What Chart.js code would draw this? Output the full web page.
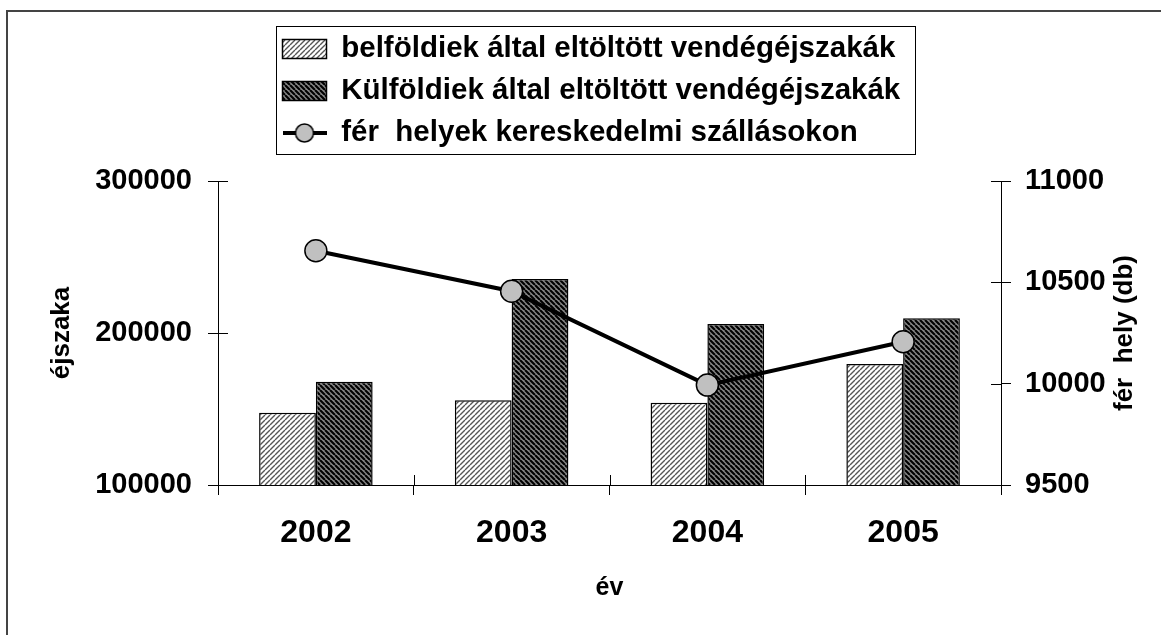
<!DOCTYPE html>
<html>
<head>
<meta charset="utf-8">
<script src="https://cdn.jsdelivr.net/npm/chart.js@4.4.1/dist/chart.umd.min.js"></script>
<style>
html,body{margin:0;padding:0;background:#fff;}
#wrap{width:1161px;height:635px;position:relative;}
</style>
</head>
<body>
<div id="wrap"><canvas id="c" width="1161" height="635"></canvas></div>
<script>
// ---- data ----
const categories = ['2002', '2003', '2004', '2005'];
const belfoldi = [147600, 155700, 154100, 179600];
const kulfoldi = [168000, 235500, 205900, 209700];
const ferohely = [10656, 10456, 9993, 10207];
const leftTicks = [100000, 200000, 300000];
const rightTicks = [9500, 10000, 10500, 11000];
const seriesNames = [
  'belföldiek által eltöltött vendégéjszakák',
  'Külföldiek által eltöltött vendégéjszakák',
  'fér  helyek kereskedelmi szállásokon'
];
const xTitle = 'év';
const yTitle = 'éjszaka';
const y2Title = 'fér  hely (db)';

// ---- styles ----
const F = '"Liberation Sans", Arial, sans-serif';
const canvas = document.getElementById('c');
const mainCtx = canvas.getContext('2d');

function hatch(bg, fg, lw, dir) {
  const s = 5;
  const c = document.createElement('canvas');
  c.width = s; c.height = s;
  const g = c.getContext('2d');
  g.fillStyle = bg; g.fillRect(0, 0, s, s);
  g.strokeStyle = fg; g.lineWidth = lw;
  g.beginPath();
  for (let k = -1; k <= 1; k++) {
    if (dir > 0) { g.moveTo(k * s, s); g.lineTo(k * s + s, 0); }
    else { g.moveTo(k * s, 0); g.lineTo(k * s + s, s); }
  }
  g.stroke();
  return mainCtx.createPattern(c, 'repeat');
}
const lightPattern = hatch('#ffffff', '#555555', 1.4, 1);
const darkPattern = hatch('#858585', '#000000', 2.1, -1);

const lineIcon = document.createElement('canvas');
lineIcon.width = 44; lineIcon.height = 24;
(function () {
  const g = lineIcon.getContext('2d');
  g.strokeStyle = '#000'; g.lineWidth = 4;
  g.beginPath(); g.moveTo(0, 12); g.lineTo(44, 12); g.stroke();
  g.beginPath(); g.arc(22, 12, 9, 0, Math.PI * 2);
  g.fillStyle = '#c0c0c0'; g.fill();
  g.lineWidth = 1.5; g.stroke();
})();

const plainNumber = v => String(v);

const decoPlugin = {
  id: 'deco',
  beforeDraw(chart) {
    const ctx = chart.ctx;
    ctx.save();
    ctx.fillStyle = '#fff';
    ctx.fillRect(0, 0, chart.width, chart.height);
    ctx.restore();
  },
  afterLayout(chart) {
    const lg = chart.legend;
    const h = lg.bottom - lg.top;
    lg.left = 270;
    lg.top = 21.75;
    lg.bottom = lg.top + h;
    lg.right = chart.width;
  },
  beforeDatasetsDraw(chart) {
    const ctx = chart.ctx;
    const {x, y, y2} = chart.scales;
    ctx.save();
    ctx.strokeStyle = '#000';
    ctx.lineWidth = 1;
    ctx.beginPath();
    y.ticks.forEach(t => {
      const py = Math.round(y.getPixelForValue(t.value)) + 0.5;
      ctx.moveTo(y.right, py); ctx.lineTo(y.right + 10, py);
    });
    y2.ticks.forEach(t => {
      const py = Math.round(y2.getPixelForValue(t.value)) + 0.5;
      ctx.moveTo(y2.left, py); ctx.lineTo(y2.left - 10, py);
    });
    const step = x.getPixelForValue(1) - x.getPixelForValue(0);
    for (let i = 1; i < categories.length; i++) {
      const px = Math.round(x.getPixelForValue(i) - step / 2) + 0.5;
      ctx.moveTo(px, x.top); ctx.lineTo(px, x.top - 10);
    }
    ctx.stroke();
    ctx.restore();
  },
  afterDraw(chart) {
    const ctx = chart.ctx;
    ctx.save();
    // outer frame
    ctx.strokeStyle = '#444';
    ctx.lineWidth = 2;
    ctx.strokeRect(7, 11, chart.width + 20, chart.height + 20);
    // legend frame
    const lg = chart.legend;
    const pad = lg.options.labels.padding;
    const fs = lg.options.labels.font.size;
    const maxLine = Math.max(...lg.lineWidths);
    const rowTop = lg.top + pad;
    const rowH = fs + pad;
    const n = lg.legendItems.length;
    const fl = lg.left + pad - 7;
    const fr = lg.left + pad + maxLine - pad + 14;
    const ft = rowTop + fs / 2 - 23;
    const fb = rowTop + (n - 1) * rowH + fs / 2 + 21;
    ctx.strokeStyle = '#000';
    ctx.lineWidth = 1;
    ctx.strokeRect(Math.round(fl) + 0.5, Math.round(ft) + 0.5, Math.round(fr - fl), Math.round(fb - ft));
    // right axis title, reading bottom-to-top
    const s = chart.scales.y2;
    ctx.translate(s.right - 36, (s.top + s.bottom) / 2);
    ctx.rotate(-Math.PI / 2);
    ctx.font = 'bold 26px ' + F;
    ctx.fillStyle = '#000';
    ctx.textAlign = 'center';
    ctx.textBaseline = 'middle';
    ctx.fillText(y2Title, 0, 0);
    ctx.restore();
  }
};

new Chart(canvas, {
  type: 'bar',
  data: {
    labels: categories,
    datasets: [
      {
        label: seriesNames[0], data: belfoldi, yAxisID: 'y', order: 1,
        backgroundColor: lightPattern, borderColor: '#000', borderWidth: 1.5,
        categoryPercentage: 0.58, barPercentage: 1.0
      },
      {
        label: seriesNames[1], data: kulfoldi, yAxisID: 'y', order: 1,
        backgroundColor: darkPattern, borderColor: '#000', borderWidth: 1.5,
        categoryPercentage: 0.58, barPercentage: 1.0
      },
      {
        type: 'line', label: seriesNames[2], data: ferohely, yAxisID: 'y2', order: 0,
        borderColor: '#000', borderWidth: 4, tension: 0, fill: false,
        pointRadius: 11, pointHoverRadius: 11, pointBackgroundColor: '#c0c0c0',
        pointBorderColor: '#000', pointBorderWidth: 1.5
      }
    ]
  },
  options: {
    responsive: false,
    devicePixelRatio: 1,
    animation: false,
    layout: { padding: { top: 45, left: 0, right: 0, bottom: 0 } },
    plugins: {
      tooltip: { enabled: false },
      legend: {
        position: 'top',
        align: 'start',
        labels: {
          usePointStyle: true,
          pointStyleWidth: 44,
          boxHeight: 19,
          padding: 12.5,
          color: '#000',
          font: { family: F, size: 29.5, weight: 'bold' },
          sort: (a, b) => a.datasetIndex - b.datasetIndex,
          generateLabels(chart) {
            const items = Chart.defaults.plugins.legend.labels.generateLabels(chart);
            items.forEach(it => {
              const ds = chart.data.datasets[it.datasetIndex];
              it.pointStyle = ds.type === 'line' ? lineIcon : 'rect';
            });
            return items;
          }
        }
      }
    },
    scales: {
      x: {
        offset: true,
        grid: { display: true, offset: true, drawOnChartArea: false, drawTicks: true, tickLength: 10, color: '#000', lineWidth: 1 },
        border: { display: true, color: '#000', width: 1 },
        ticks: { color: '#000', font: { family: F, size: 32, weight: 'bold' }, padding: 19, maxRotation: 0 },
        title: { display: true, text: xTitle, color: '#000', font: { family: F, size: 25, weight: 'bold' }, padding: { top: 0, bottom: 32 } },
        afterFit: s => { s.height = 150; }
      },
      y: {
        type: 'linear', position: 'left', min: leftTicks[0], max: leftTicks[leftTicks.length - 1], beginAtZero: false,
        afterBuildTicks: s => { s.ticks = leftTicks.map(v => ({ value: v })); },
        grid: { display: true, drawOnChartArea: false, drawTicks: true, tickLength: 10, color: '#000' },
        border: { display: true, color: '#000', width: 1 },
        ticks: { color: '#000', font: { family: F, size: 29, weight: 'bold' }, padding: 16, callback: plainNumber },
        title: { display: true, text: yTitle, color: '#000', font: { family: F, size: 26, weight: 'bold' }, padding: { top: 46, bottom: 0 } },
        afterFit: s => { s.width = 218; }
      },
      y2: {
        type: 'linear', position: 'right', min: rightTicks[0], max: rightTicks[rightTicks.length - 1], beginAtZero: false,
        afterBuildTicks: s => { s.ticks = rightTicks.map(v => ({ value: v })); },
        grid: { display: true, drawOnChartArea: false, drawTicks: true, tickLength: 10, color: '#000' },
        border: { display: true, color: '#000', width: 1 },
        ticks: { color: '#000', font: { family: F, size: 29, weight: 'bold' }, padding: 14, callback: plainNumber },
        title: { display: false, text: y2Title },
        afterFit: s => { s.width = 160; }
      }
    }
  },
  plugins: [decoPlugin]
});
</script>
</body>
</html>
